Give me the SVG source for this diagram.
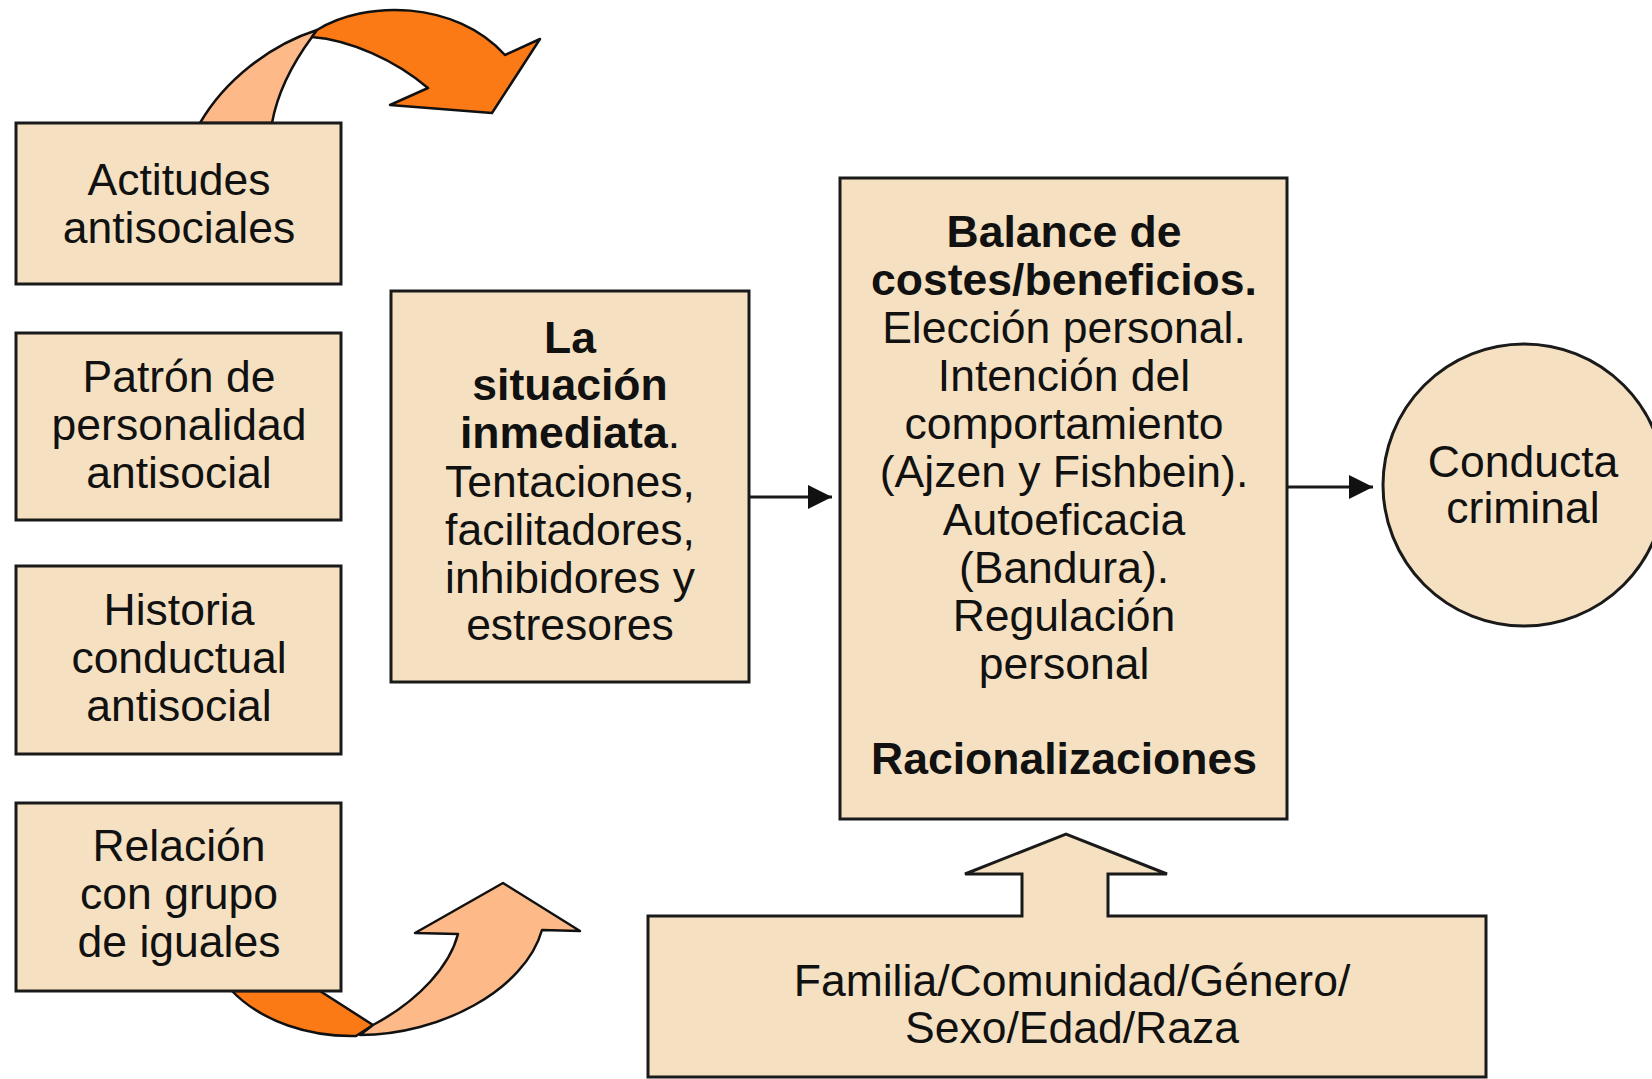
<svg xmlns="http://www.w3.org/2000/svg" width="1652" height="1079" viewBox="0 0 1652 1079">
<defs>
<style>
.box{fill:#F5E1C1;stroke:#1a1a1a;stroke-width:3}
.t{font-family:"Liberation Sans",Arial,Helvetica,sans-serif;font-size:44.5px;fill:#111;text-anchor:middle}
.b{font-weight:bold}
.con{stroke:#1a1a1a;stroke-width:3;fill:none}
.dark{fill:#FC7A16;stroke:#111;stroke-width:2.5;stroke-linejoin:round}
.light{fill:#FDB987;stroke:#111;stroke-width:2.5;stroke-linejoin:round}
</style>
<marker id="ah" viewBox="0 0 10 10" refX="10" refY="5" markerWidth="8" markerHeight="8" markerUnits="strokeWidth" orient="auto">
<path d="M0,0 L10,5 L0,10 Z" fill="#111"/>
</marker>
</defs>
<rect width="1652" height="1079" fill="#fff"/>

<g id="curved-arrows">
<path class="light" d="M200,123 C225,80 270,45 317,30 L312,37 C295,60 278,90 272,123 Z"/>
<path class="dark" d="M317,30 C365,0 455,0 505,55 L540,39 L492,113 L390,105 L428,88 C395,60 350,40 312,37 Z"/>
<path class="dark" d="M232,991 C262,1022 310,1037 356,1036 L373,1025 L320,991 Z"/>
<path class="light" d="M360,1035 C440,1035 525,990 542,930 L580,931 L503,883 L415,933 L458,934 C450,965 420,1000 373,1025 Z"/>
</g>

<g id="n-actitudes">
<rect class="box" x="16" y="123" width="325" height="161"/>
<text class="t" x="179" y="195">Actitudes</text>
<text class="t" x="179" y="243">antisociales</text>
</g>

<g id="n-patron">
<rect class="box" x="16" y="333" width="325" height="187"/>
<text class="t" x="179" y="392">Patrón de</text>
<text class="t" x="179" y="440">personalidad</text>
<text class="t" x="179" y="488">antisocial</text>
</g>

<g id="n-historia">
<rect class="box" x="16" y="566" width="325" height="188"/>
<text class="t" x="179" y="625">Historia</text>
<text class="t" x="179" y="673">conductual</text>
<text class="t" x="179" y="721">antisocial</text>
</g>

<g id="n-relacion">
<rect class="box" x="16" y="803" width="325" height="188"/>
<text class="t" x="179" y="861">Relación</text>
<text class="t" x="179" y="909">con grupo</text>
<text class="t" x="179" y="957">de iguales</text>
</g>

<g id="n-situacion">
<rect class="box" x="391" y="291" width="358" height="391"/>
<text class="t b" x="570" y="353">La</text>
<text class="t b" x="570" y="400">situación</text>
<text class="t" x="570" y="448"><tspan class="b">inmediata</tspan>.</text>
<text class="t" x="570" y="497">Tentaciones,</text>
<text class="t" x="570" y="545">facilitadores,</text>
<text class="t" x="570" y="593">inhibidores y</text>
<text class="t" x="570" y="640">estresores</text>
</g>

<g id="n-balance">
<rect class="box" x="840" y="178" width="447" height="641"/>
<text class="t b" x="1064" y="247">Balance de</text>
<text class="t b" x="1064" y="295">costes/beneficios.</text>
<text class="t" x="1064" y="343">Elección personal.</text>
<text class="t" x="1064" y="391">Intención del</text>
<text class="t" x="1064" y="439">comportamiento</text>
<text class="t" x="1064" y="487">(Ajzen y Fishbein).</text>
<text class="t" x="1064" y="535">Autoeficacia</text>
<text class="t" x="1064" y="583">(Bandura).</text>
<text class="t" x="1064" y="631">Regulación</text>
<text class="t" x="1064" y="679">personal</text>
<text class="t b" x="1064" y="774">Racionalizaciones</text>
</g>

<g id="n-conducta">
<circle class="box" cx="1524" cy="485" r="141"/>
<text class="t" x="1523" y="477">Conducta</text>
<text class="t" x="1523" y="523">criminal</text>
</g>

<g id="n-familia">
<path class="box" d="M648,916 L1022,916 L1022,874 L965,874 L1066,834 L1167,874 L1108,874 L1108,916 L1486,916 L1486,1077 L648,1077 Z"/>
<text class="t" x="1072" y="996">Familia/Comunidad/Género/</text>
<text class="t" x="1072" y="1043">Sexo/Edad/Raza</text>
</g>

<g id="connectors">
<line class="con" x1="749" y1="497" x2="832" y2="497" marker-end="url(#ah)"/>
<line class="con" x1="1287" y1="487" x2="1373" y2="487" marker-end="url(#ah)"/>
</g>
</svg>
